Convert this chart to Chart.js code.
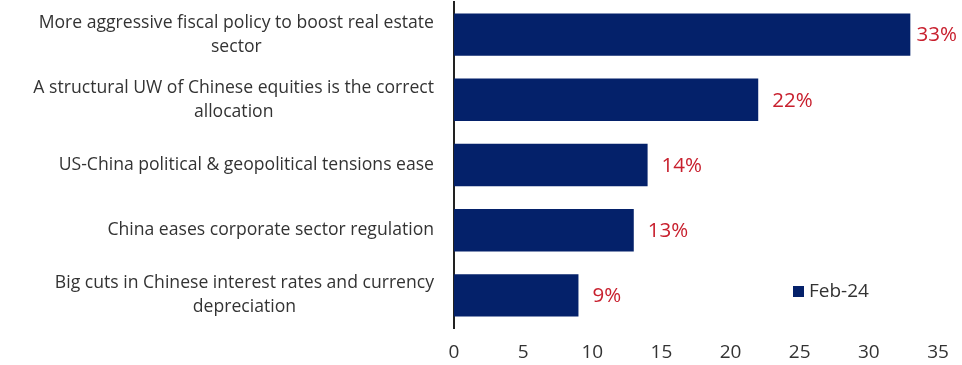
<!DOCTYPE html>
<html>
<head>
<meta charset="utf-8">
<script src="https://cdn.jsdelivr.net/npm/chart.js@4.4.1/dist/chart.umd.min.js"></script>
<style>
  html, body { margin: 0; padding: 0; background: #fff; }
  #wrap { width: 962px; height: 365px; position: relative; }
</style>
</head>
<body>
<div id="wrap"><canvas id="chart"></canvas></div>
<script>
// categories, split into the lines they are drawn on
const categories = [
  ["More aggressive fiscal policy to boost real estate", "sector"],
  ["A structural UW of Chinese equities is the correct", "allocation"],
  ["US-China political & geopolitical tensions ease"],
  ["China eases corporate sector regulation"],
  ["Big cuts in Chinese interest rates and currency", "depreciation"],
];
const seriesName = "Feb-24";
const feb24 = [33, 22, 14, 13, 9];
const xTicks = [0, 5, 10, 15, 20, 25, 30, 35];

const NAVY = "#04216a";
const RED = "#c8202e";
const TEXT = "#333333";
const FONT = "'Open Sans', sans-serif";

// CATEGORY LABELS: block right-aligned, lines centred inside the block
const categoryLabels = {
  id: "categoryLabels",
  afterDraw(chart) {
    const y = chart.scales.y;
    const ctx = chart.ctx;
    ctx.save();
    ctx.font = "17.6px " + FONT;
    ctx.fillStyle = TEXT;
    ctx.textAlign = "center";
    ctx.textBaseline = "middle";
    categories.forEach((lines, i) => {
      const cy = y.getPixelForValue(i);
      const w = Math.max(...lines.map((l) => ctx.measureText(l).width));
      const cx = y.right - 20 - w / 2;
      lines.forEach((l, j) => {
        ctx.fillText(l, cx, cy + (j - (lines.length - 1) / 2) * 24);
      });
    });
    ctx.restore();
  },
};

// VALUE LABELS at the end of each bar, kept inside the canvas
const valueLabels = {
  id: "valueLabels",
  afterDatasetsDraw(chart) {
    const ctx = chart.ctx;
    const meta = chart.getDatasetMeta(0);
    ctx.save();
    ctx.font = "20.5px " + FONT;
    ctx.fillStyle = RED;
    ctx.textAlign = "left";
    ctx.textBaseline = "middle";
    meta.data.forEach((bar, i) => {
      const txt = feb24[i] + "%";
      const w = ctx.measureText(txt).width;
      const x = Math.min(bar.x + 14, chart.width - w - 5);
      ctx.fillText(txt, x, bar.y + 1);
    });
    ctx.restore();
  },
};

// LEGEND inside the plot, lower right
const insideLegend = {
  id: "insideLegend",
  afterDraw(chart) {
    const area = chart.chartArea;
    const ctx = chart.ctx;
    const ds = chart.data.datasets[0];
    const x = area.right - 145;
    const y = area.bottom - 36;
    ctx.save();
    ctx.fillStyle = ds.backgroundColor;
    ctx.fillRect(x, y - 6, 11, 11);
    ctx.font = "19px " + FONT;
    ctx.fillStyle = TEXT;
    ctx.textAlign = "left";
    ctx.textBaseline = "middle";
    ctx.fillText(ds.label, x + 16, y);
    ctx.restore();
  },
};

const ctx = document.getElementById("chart");
new Chart(ctx, {
  type: "bar",
  data: {
    labels: categories,
    datasets: [
      {
        label: seriesName,
        data: feb24,
        backgroundColor: NAVY,
        barPercentage: 0.65,
        categoryPercentage: 1,
      },
    ],
  },
  options: {
    indexAxis: "y",
    responsive: true,
    maintainAspectRatio: false,
    animation: false,
    layout: { padding: { top: 2, right: 24, bottom: 0, left: 0 } },
    plugins: {
      legend: { display: false },
      tooltip: { enabled: false },
    },
    scales: {
      x: {
        min: 0,
        max: 35,
        afterBuildTicks: (s) => {
          s.ticks = xTicks.map((v) => ({ value: v }));
        },
        afterFit: (s) => {
          s.height = 37;
        },
        grid: { display: false, drawTicks: false },
        border: { display: false },
        ticks: {
          padding: 13,
          color: TEXT,
          font: { family: FONT, size: 19 },
          maxRotation: 0,
        },
      },
      y: {
        afterFit: (s) => {
          s.width = 454;
        },
        grid: { display: false, drawTicks: false },
        border: { display: true, color: "#222", width: 2 },
        ticks: { display: false },
      },
    },
  },
  plugins: [categoryLabels, valueLabels, insideLegend],
});
</script>
</body>
</html>
